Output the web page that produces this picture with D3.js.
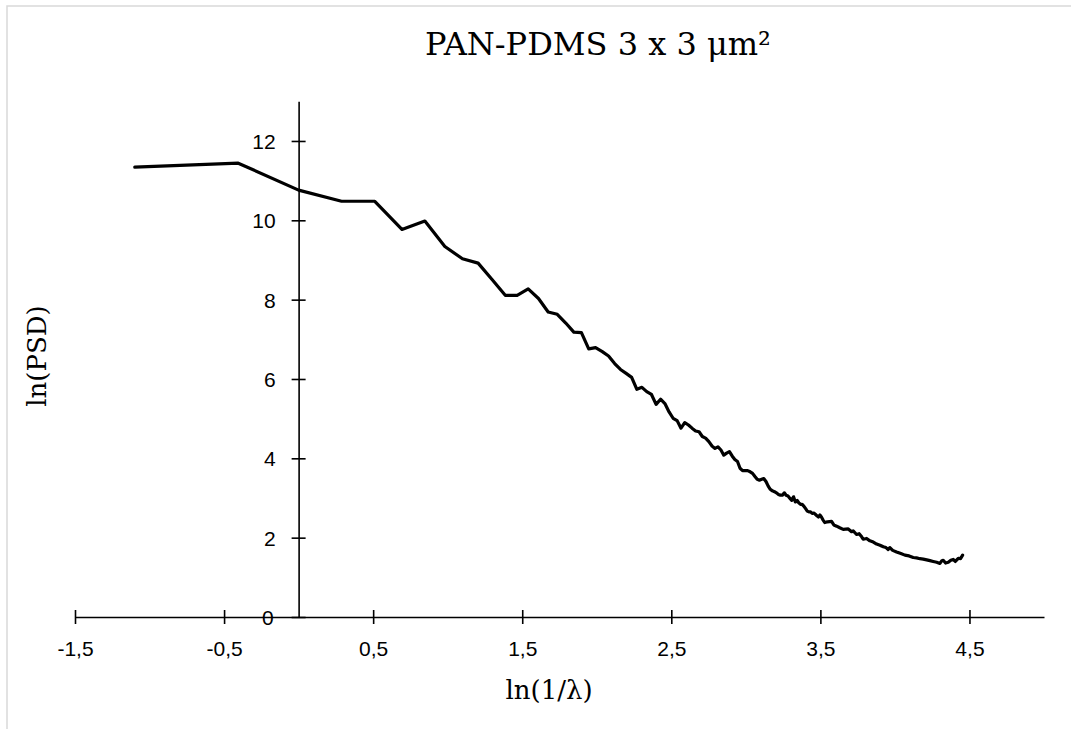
<!DOCTYPE html>
<html>
<head>
<meta charset="utf-8">
<script src="https://cdn.jsdelivr.net/npm/d3@7"></script>
<style>
  html, body { margin: 0; padding: 0; background: #fff; }
  svg { display: block; }
</style>
</head>
<body>
<svg id="chart" width="1071" height="729"></svg>
<script>
// ---- data ----
const chartTitle = "PAN-PDMS 3 x 3 μm²";
const xTitle = "ln(1/λ)";
const yTitle = "ln(PSD)";

const xTicks = [-1.5, -0.5, 0.5, 1.5, 2.5, 3.5, 4.5];
const yTicks = [0, 2, 4, 6, 8, 10, 12];

const xVals = [
  -1.099, -0.405, 0, 0.288, 0.511, 0.693, 0.847, 0.981, 1.099, 1.204,
  1.299, 1.386, 1.466, 1.540, 1.609, 1.674, 1.735, 1.792, 1.846, 1.897,
  1.946, 1.992, 2.037, 2.079, 2.120, 2.159, 2.197, 2.234, 2.269, 2.303,
  2.335, 2.367, 2.398, 2.428, 2.457, 2.485, 2.512, 2.539, 2.565, 2.590,
  2.615, 2.639, 2.663, 2.686, 2.708, 2.730, 2.752, 2.773, 2.793, 2.813,
  2.833, 2.852, 2.871, 2.890, 2.908, 2.926, 2.944, 2.961, 2.978, 2.996,
  3.012, 3.029, 3.045, 3.061, 3.076, 3.091, 3.106, 3.121, 3.136, 3.150,
  3.164, 3.178, 3.192, 3.205, 3.219, 3.232, 3.245, 3.258, 3.270, 3.283,
  3.296, 3.308, 3.320, 3.332, 3.344, 3.355, 3.367, 3.378, 3.390, 3.401,
  3.412, 3.423, 3.434, 3.445, 3.456, 3.466, 3.477, 3.487, 3.497, 3.507,
  3.517, 3.530, 3.547, 3.575, 3.590, 3.609, 3.630, 3.653, 3.687, 3.709,
  3.720, 3.743, 3.760, 3.777, 3.787, 3.810, 3.832, 3.855, 3.877, 3.900,
  3.922, 3.940, 3.955, 3.966, 3.985, 4.011, 4.040, 4.067, 4.095, 4.123,
  4.145, 4.168, 4.190, 4.213, 4.235, 4.257, 4.280, 4.302, 4.315, 4.324,
  4.340, 4.358, 4.375, 4.391, 4.405, 4.425, 4.440, 4.454
];

const yVals = [
  11.34, 11.44, 10.76, 10.48, 10.48, 9.77, 9.98, 9.34, 9.03, 8.92,
  8.50, 8.11, 8.11, 8.27, 8.03, 7.69, 7.63, 7.41, 7.18, 7.17,
  6.76, 6.79, 6.69, 6.58, 6.39, 6.24, 6.14, 6.04, 5.74, 5.79,
  5.68, 5.61, 5.36, 5.49, 5.38, 5.17, 5.01, 4.95, 4.76, 4.90,
  4.84, 4.76, 4.69, 4.67, 4.55, 4.51, 4.42, 4.31, 4.25, 4.29,
  4.21, 4.08, 4.13, 4.17, 4.06, 3.97, 3.92, 3.75, 3.69, 3.69,
  3.69, 3.66, 3.62, 3.54, 3.47, 3.45, 3.47, 3.49, 3.41, 3.30,
  3.22, 3.18, 3.16, 3.13, 3.09, 3.07, 3.07, 3.13, 3.07, 3.05,
  2.99, 2.94, 3.03, 2.90, 2.94, 2.88, 2.84, 2.84, 2.79, 2.73,
  2.67, 2.65, 2.65, 2.61, 2.62, 2.59, 2.55, 2.52, 2.57, 2.52,
  2.45, 2.38, 2.40, 2.41, 2.32, 2.29, 2.25, 2.21, 2.22, 2.15,
  2.17, 2.08, 2.10, 2.02, 1.96, 1.98, 1.92, 1.89, 1.84, 1.81,
  1.77, 1.75, 1.70, 1.75, 1.68, 1.64, 1.60, 1.56, 1.54, 1.50,
  1.49, 1.47, 1.46, 1.44, 1.42, 1.40, 1.38, 1.35, 1.42, 1.43,
  1.36, 1.38, 1.43, 1.45, 1.40, 1.48, 1.47, 1.56
];

// ---- drawing ----
const svg = d3.select("#chart");
const W = 1071, H = 729;

svg.append("rect").attr("width", W).attr("height", H).attr("fill", "#fff");
// chart area border (extends beyond the window on right/bottom)
svg.append("rect")
  .attr("x", 7).attr("y", 6).attr("width", 1200).attr("height", 900)
  .attr("fill", "none").attr("stroke", "#d9d9d9").attr("stroke-width", 1.5);

const x = d3.scaleLinear().domain([-1.5, 5]).range([75, 1044]);
const y = d3.scaleLinear().domain([0, 13]).range([617, 101.3]);

const fmt = d => String(d).replace(".", ",");
const tickFont = "'Liberation Sans', Arial, sans-serif";
const serif = "'DejaVu Serif', 'Liberation Serif', serif";

// X axis at y = 0
const xAxis = d3.axisBottom(x).tickValues(xTicks).tickSize(7).tickSizeOuter(0).tickFormat(fmt);
const gx = svg.append("g").attr("transform", `translate(0,${y(0)})`).call(xAxis);
gx.select(".domain").attr("stroke", "#000").attr("stroke-width", 1.6);
gx.selectAll(".tick line").attr("stroke", "#000").attr("stroke-width", 1.6).attr("y1", -7).attr("y2", 7);
gx.selectAll(".tick text")
  .attr("y", 39).attr("dy", 0)
  .attr("fill", "#000").attr("font-family", tickFont).attr("font-size", 21);

// Y axis at x = 0
const yAxis = d3.axisLeft(y).tickValues(yTicks).tickSize(7).tickSizeOuter(0).tickFormat(fmt);
const gy = svg.append("g").attr("transform", `translate(${x(0)},0)`).call(yAxis);
gy.select(".domain").attr("stroke", "#000").attr("stroke-width", 1.6);
gy.selectAll(".tick line").attr("stroke", "#000").attr("stroke-width", 1.6).attr("x1", -7).attr("x2", 7);
gy.selectAll(".tick text")
  .attr("x", -23).attr("dy", "0.35em")
  .attr("fill", "#000").attr("font-family", tickFont).attr("font-size", 21);
gy.selectAll(".tick").filter(d => d === 0).select("text").attr("x", -25);

// line
const pts = xVals.map((v, i) => [v, yVals[i]]);
const line = d3.line().x(d => x(d[0])).y(d => y(d[1]));
svg.append("path")
  .datum(pts)
  .attr("d", line)
  .attr("fill", "none")
  .attr("stroke", "#000")
  .attr("stroke-width", 3.2)
  .attr("stroke-linejoin", "round")
  .attr("stroke-linecap", "round");

// titles
svg.append("text")
  .attr("x", 598).attr("y", 55)
  .attr("text-anchor", "middle")
  .attr("font-family", serif).attr("font-size", 32)
  .attr("fill", "#000")
  .text(chartTitle);

svg.append("text")
  .attr("x", 549).attr("y", 699)
  .attr("text-anchor", "middle")
  .attr("font-family", serif).attr("font-size", 26)
  .attr("fill", "#000")
  .text(xTitle);

svg.append("text")
  .attr("transform", "translate(46,356) rotate(-90)")
  .attr("text-anchor", "middle")
  .attr("font-family", serif).attr("font-size", 26)
  .attr("fill", "#000")
  .text(yTitle);
</script>
</body>
</html>
